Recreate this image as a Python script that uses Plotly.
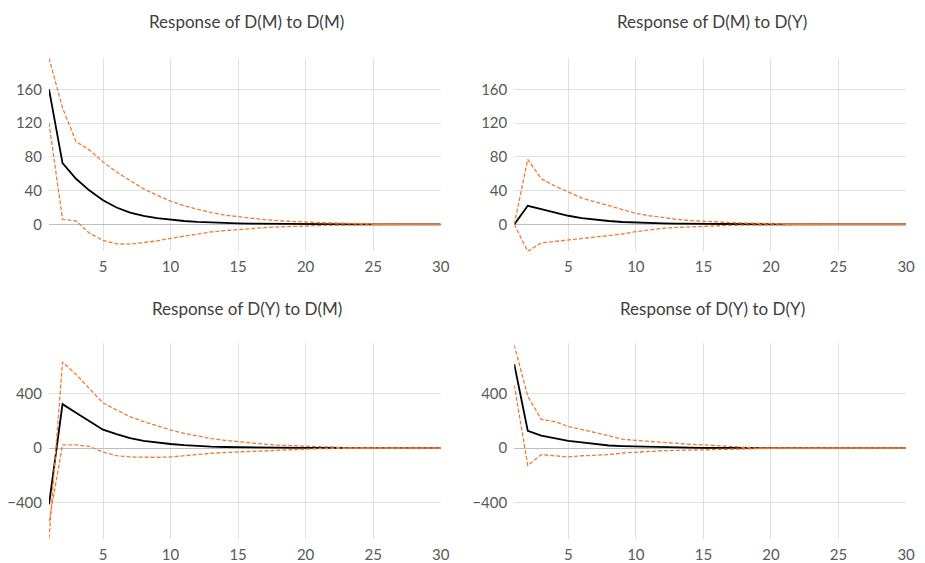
import plotly.graph_objects as go

periods = list(range(1, 31))

# Response of D(M) to D(M)
dm_dm_resp = [160, 72.5, 54, 40, 28.6, 20, 14, 10, 7.5, 5.5, 4, 3, 2.2, 1.6, 1.2, 0.8, 0.6, 0.4, 0.3, 0.2, 0.15, 0.1, 0.07, 0.05, 0, 0, 0, 0, 0, 0]
dm_dm_up = [197, 138, 98, 88, 74, 62, 52, 42, 34.5, 27.5, 22, 18, 14, 11, 9, 7, 5.5, 4.3, 3.4, 2.7, 2.1, 1.7, 1.3, 1.0, 0, 0, 0, 0, 0, 0]
dm_dm_lo = [120, 6, 4, -10.5, -19, -23, -23.5, -22, -19.6, -16.5, -13.7, -11.4, -9, -7.5, -6, -4.8, -3.8, -3, -2.3, -1.8, -1.4, -1.1, -0.8, -0.6, 0, 0, 0, 0, 0, 0]

# Response of D(M) to D(Y)
dm_dy_resp = [0, 22, 18, 13.7, 10.2, 7.5, 5.5, 4, 2.8, 2, 1.5, 1.1, 0.8, 0.6, 0.45, 0.33, 0.25, 0.18, 0.13, 0.1, 0, 0, 0, 0, 0, 0, 0, 0, 0, 0]
dm_dy_up = [0, 77, 54, 45.5, 38.4, 31, 26.7, 22, 17, 13, 10.2, 7.8, 6, 4.6, 3.5, 2.7, 2.1, 1.6, 1.2, 0.9, 0, 0, 0, 0, 0, 0, 0, 0, 0, 0]
dm_dy_lo = [0, -32, -22, -20.4, -19, -17, -15, -13.3, -11.4, -8.6, -6.3, -4.7, -3.6, -2.8, -2.1, -1.6, -1.2, -0.9, -0.7, -0.5, 0, 0, 0, 0, 0, 0, 0, 0, 0, 0]

# Response of D(Y) to D(M)
dy_dm_resp = [-412, 322, 259, 199, 135, 102, 73, 53, 39, 30, 22, 15, 11, 8, 6, 4.5, 3.3, 2.4, 1.8, 1.3, 1, 0.7, 0, 0, 0, 0, 0, 0, 0, 0]
dy_dm_up = [-660, 630, 540, 436, 330, 279, 230, 194, 162, 133, 108, 88, 70, 57, 47, 36, 28, 22, 17, 13, 10, 8, 0, 0, 0, 0, 0, 0, 0, 0]
dy_dm_lo = [-540, 24, 24, 12, -29, -56, -65, -68, -68, -65, -55, -45, -38, -33, -29, -23, -17, -12, -8, -6, -4, -3, 0, 0, 0, 0, 0, 0, 0, 0]

# Response of D(Y) to D(Y)
dy_dy_resp = [615, 127, 92, 73, 53, 41, 29, 19, 15, 12, 7, 5, 4, 3, 2.2, 1.6, 1.2, 0.9, 0, 0, 0, 0, 0, 0, 0, 0, 0, 0, 0, 0]
dy_dy_up = [755, 380, 210, 194, 158, 138, 114, 90, 65, 56, 48, 42, 35, 28, 24, 18, 13, 9, 0, 0, 0, 0, 0, 0, 0, 0, 0, 0, 0, 0]
dy_dy_lo = [462, -128, -48, -56, -65, -56, -51, -48, -36, -29, -24, -19, -17, -15, -12, -9, -6, -4, 0, 0, 0, 0, 0, 0, 0, 0, 0, 0, 0, 0]

titles = ["Response of D(M) to D(M)", "Response of D(M) to D(Y)",
          "Response of D(Y) to D(M)", "Response of D(Y) to D(Y)"]
x_ticks = [5, 10, 15, 20, 25, 30]
y_ticks_top = [0, 40, 80, 120, 160]
y_ticks_bottom = [-400, 0, 400]

W, H = 925, 563
ORANGE = "#ED7D31"
FONT = "Lato"
TICK_COLOR = "#595959"

panels = [
    (titles[0], dm_dm_resp, dm_dm_up, dm_dm_lo, (49.5, 445), (58, 253), [-31.8, 197.6], y_ticks_top),
    (titles[1], dm_dy_resp, dm_dy_up, dm_dy_lo, (519.3, 915), (58, 253), [-31.8, 197.6], y_ticks_top),
    (titles[2], dy_dm_resp, dy_dm_up, dy_dm_lo, (49.5, 445), (345, 543), [-667, 773], y_ticks_bottom),
    (titles[3], dy_dy_resp, dy_dy_up, dy_dy_lo, (519.3, 915), (345, 543), [-667, 773], y_ticks_bottom),
]

fig = go.Figure()
annotations = []
for i, (title, resp, up, lo, (x0, x1), (y0, y1), yr, yt) in enumerate(panels):
    n = "" if i == 0 else str(i + 1)
    xa, ya = "x" + n, "y" + n
    fig.add_trace(go.Scatter(x=periods, y=resp, mode="lines",
                             line=dict(color="#000000", width=1.8),
                             xaxis=xa, yaxis=ya, showlegend=False, hoverinfo="skip"))
    for band in (up, lo):
        fig.add_trace(go.Scatter(x=periods, y=band, mode="lines",
                                 line=dict(color=ORANGE, width=1.3, dash="4px,2px"),
                                 xaxis=xa, yaxis=ya, showlegend=False, hoverinfo="skip"))
    # where both bands coincide at zero, the dashes overlap into a solid line
    tail_x = [p for p, u, l in zip(periods, up, lo) if u == 0 and l == 0 and p > 1]
    tail_y = [0 for p in tail_x]
    fig.add_trace(go.Scatter(x=tail_x, y=tail_y, mode="lines",
                             line=dict(color=ORANGE, width=1.3),
                             xaxis=xa, yaxis=ya, showlegend=False, hoverinfo="skip"))

    fig.layout["xaxis" + n] = dict(
        domain=[x0 / W, x1 / W], range=[1, 30], anchor=ya,
        tickvals=x_ticks, showgrid=True, gridcolor="#E0E0E0", gridwidth=1,
        zeroline=False, showline=False, ticks="",
        tickfont=dict(family=FONT, size=15, color=TICK_COLOR),
        ticklabelstandoff=5, fixedrange=True)
    fig.layout["yaxis" + n] = dict(
        domain=[1 - y1 / H, 1 - y0 / H], range=yr, anchor=xa,
        tickvals=yt, showgrid=True, gridcolor="#E0E0E0", gridwidth=1,
        zeroline=True, zerolinecolor="#BFBFBF", zerolinewidth=1,
        showline=False, ticks="",
        tickfont=dict(family=FONT, size=15, color=TICK_COLOR),
        ticklabelstandoff=6, fixedrange=True)
    annotations.append(dict(text=title, xref="paper", yref="paper",
                            x=((x0 + x1) / 2 + 2) / W, y=1 - (22 if y0 < 100 else 311) / H,
                            xanchor="center", yanchor="middle", showarrow=False,
                            font=dict(family=FONT, size=17, color="#404040")))

fig.update_layout(width=W, height=H, margin=dict(l=0, r=0, t=0, b=0),
                  paper_bgcolor="white", plot_bgcolor="white",
                  annotations=annotations)
fig.write_html("out.html")
